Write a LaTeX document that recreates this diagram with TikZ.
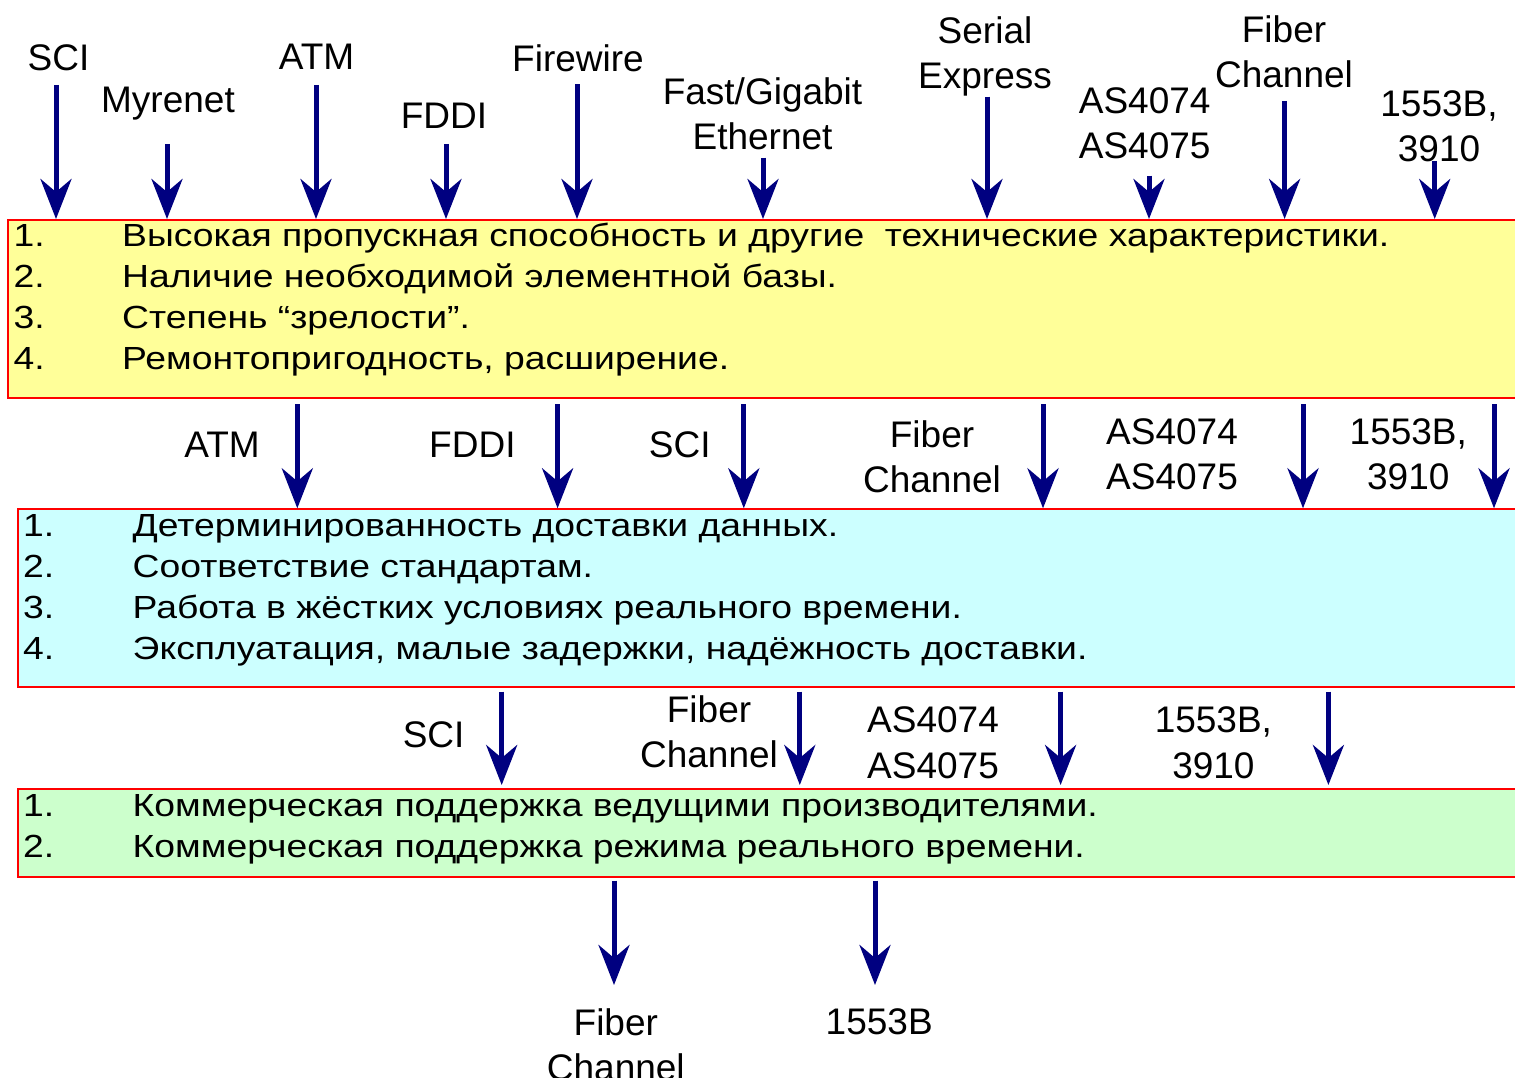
\documentclass[tikz,border=0pt]{standalone}
\usepackage{fontspec}
\setmainfont{Liberation Sans}
\usetikzlibrary{arrows.meta}
\definecolor{arrowblue}{RGB}{0,0,128}
\definecolor{boxyellow}{RGB}{255,255,153}
\definecolor{boxcyan}{RGB}{204,255,255}
\definecolor{boxgreen}{RGB}{204,255,204}
\definecolor{boxred}{RGB}{255,0,0}
% list items are set in a slightly widened face
\newcommand\widetext[1]{\scalebox{1.166}[1]{#1}}
\begin{document}
\begin{tikzpicture}[x=1pt,y=-1pt,
  lbl/.style={font=\fontsize{37}{45.5}\selectfont, align=center, inner sep=0pt, anchor=north},
  itm/.style={font=\fontsize{32}{41}\selectfont, inner sep=0pt, anchor=base west},
  box/.style={draw=boxred, line width=2pt, outer sep=0pt, inner sep=0pt,
    anchor=north west, minimum width=1530pt},
  arr/.style={draw=arrowblue, line width=5pt,
    -{Stealth[length=40pt,width=31pt,inset=13pt]}},
]
\useasboundingbox (0,0) rectangle (1515,1078);
\clip (0,0) rectangle (1515,1078);

% ---- the three criteria boxes
\node[box, fill=boxyellow, minimum height=177.7pt] (ybox) at (8.3,220) {};
\node[box, fill=boxcyan,   minimum height=177.4pt] (cbox) at (17.6,509.3) {};
\node[box, fill=boxgreen,  minimum height=87.7pt]  (gbox) at (17.6,789) {};

% ---- criteria lists
\foreach \t [count=\i] in {
  {Высокая пропускная способность и другие~ технические характеристики.},
  {Наличие необходимой элементной базы.},
  {Степень “зрелости”.},
  {Ремонтопригодность, расширение.}} {
  \node[itm] (yn\i) at (13.5,{205+41*\i}) {\widetext{\i.}};
  \node[itm] (yt\i) at (122,{205+41*\i}) {\widetext{\t}};
}
\foreach \t [count=\i] in {
  {Детерминированность доставки данных.},
  {Соответствие стандартам.},
  {Работа в жёстких условиях реального времени.},
  {Эксплуатация, малые задержки, надёжность доставки.}} {
  \node[itm] (cn\i) at (23,{495+41*\i}) {\widetext{\i.}};
  \node[itm] (ct\i) at (132.5,{495+41*\i}) {\widetext{\t}};
}
\foreach \t [count=\i] in {
  {Коммерческая поддержка ведущими производителями.},
  {Коммерческая поддержка режима реального времени.}} {
  \node[itm] (gn\i) at (23,{775+41*\i}) {\widetext{\i.}};
  \node[itm] (gt\i) at (132.5,{775+41*\i}) {\widetext{\t}};
}

% ---- candidate interfaces entering the first box
\node[lbl] (tSCI)  at (58.5,44)   {SCI};
\node[lbl] (tMyr)  at (168,87.3)  {Myrenet};
\node[lbl] (tATM)  at (316.5,44)  {ATM};
\node[lbl] (tFDDI) at (444,103.3) {FDDI};
\node[lbl] (tFW)   at (578,44)    {Firewire};
\node[lbl] (tEth)  at (762.5,77.3) {Fast/Gigabit\\Ethernet};
\node[lbl] (tSer)  at (985,16)    {Serial\\Express};
\node[lbl] (tAS)   at (1144.7,87.3) {AS4074\\AS4075};
\node[lbl] (tFC)   at (1284,15)   {Fiber\\Channel};
\node[lbl] (tMil)  at (1439,90)   {1553B,\\3910};

\coordinate (aSCI)  at (56,85);
\coordinate (aMyr)  at (167,144);
\coordinate (aATM)  at (316,85);
\coordinate (aFDDI) at (446,144);
\coordinate (aFW)   at (577,84.3);
\coordinate (aEth)  at (763,157.7);
\coordinate (aSer)  at (987,96.7);
\coordinate (aAS)   at (1149,175.7);
\coordinate (aFC)   at (1284.6,101);
\coordinate (aMil)  at (1434.7,161);
\foreach \c in {aSCI,aMyr,aATM,aFDDI,aFW,aEth,aSer,aAS,aFC,aMil}
  \draw[arr, shorten >=1pt] (\c) -- (\c |- ybox.north);

% ---- interfaces passing to the second box
\node[lbl] (mATM)  at (222,431.7)   {ATM};
\node[lbl] (mFDDI) at (472.4,431.7) {FDDI};
\node[lbl] (mSCI)  at (679.7,431.7) {SCI};
\node[lbl] (mFC)   at (932,420)     {Fiber\\Channel};
\node[lbl] (mAS)   at (1172,418.3)  {AS4074\\AS4075};
\node[lbl] (mMil)  at (1408.3,418.3) {1553B,\\3910};

\coordinate (bATM)  at (297.3,404.3);
\coordinate (bFDDI) at (557.6,404.3);
\coordinate (bSCI)  at (743.8,404.3);
\coordinate (bFC)   at (1043,404.3);
\coordinate (bAS)   at (1303,404.3);
\coordinate (bMil)  at (1494,404.3);
\foreach \c in {bATM,bFDDI,bSCI,bFC,bAS,bMil}
  \draw[arr, shorten >=1pt] (\c) -- (\c |- cbox.north);

% ---- interfaces passing to the third box
\node[lbl] (lSCI) at (433.6,721.7) {SCI};
\node[lbl] (lFC)  at (709,695)     {Fiber\\Channel};
\node[lbl] (lAS)  at (933,706.7)   {AS4074\\AS4075};
\node[lbl] (lMil) at (1213.4,706.7) {1553B,\\3910};

\coordinate (cSCI) at (501.7,691.7);
\coordinate (cFC)  at (799.8,691.7);
\coordinate (cAS)  at (1060.6,691.7);
\coordinate (cMil) at (1328.4,691.7);
\foreach \c in {cSCI,cFC,cAS,cMil}
  \draw[arr, shorten >=4pt] (\c) -- (\c |- gbox.north);

% ---- final choice
\node[lbl] (fFC)  at (615.8,1008.3) {Fiber\\Channel};
\node[lbl] (fMil) at (879.2,1008.3) {1553B};
\coordinate (dFC)  at (614,880.7);
\coordinate (dMil) at (875,880.7);
\draw[arr, shorten >=23.3pt] (dFC) -- (dFC |- fFC.north);
\draw[arr, shorten >=23.3pt] (dMil) -- (dMil |- fMil.north);
\end{tikzpicture}
\end{document}
